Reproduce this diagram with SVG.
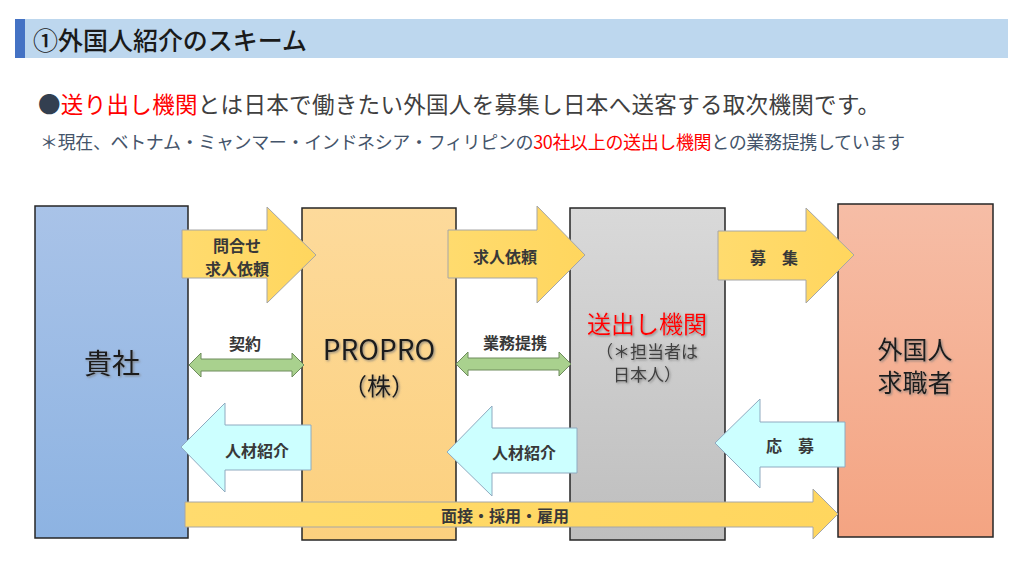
<svg xmlns="http://www.w3.org/2000/svg" width="1024" height="576" viewBox="0 0 1024 576">
<defs>
<linearGradient id="gBlue" x1="0" y1="0" x2="0" y2="1"><stop offset="0" stop-color="#A9C3E8"/><stop offset="1" stop-color="#8DB3E2"/></linearGradient>
<linearGradient id="gOrange" x1="0" y1="0" x2="0" y2="1"><stop offset="0" stop-color="#FDDA9B"/><stop offset="1" stop-color="#FCD07E"/></linearGradient>
<linearGradient id="gGray" x1="0" y1="0" x2="0" y2="1"><stop offset="0" stop-color="#D9D9D9"/><stop offset="1" stop-color="#BEBEBE"/></linearGradient>
<linearGradient id="gSalmon" x1="0" y1="0" x2="0" y2="1"><stop offset="0" stop-color="#F6BDA6"/><stop offset="1" stop-color="#F4A482"/></linearGradient>
<linearGradient id="gYellow" x1="0" y1="0" x2="1" y2="0"><stop offset="0" stop-color="#FFDB6E"/><stop offset="1" stop-color="#FFD65E"/></linearGradient>
<filter id="sh" x="-20%" y="-20%" width="140%" height="140%"><feDropShadow dx="1.2" dy="1.2" stdDeviation="0.8" flood-color="#777" flood-opacity="0.8"/></filter>
</defs>
<style>
.jp{font-family:"Noto Sans CJK JP","Noto Sans",sans-serif;}
.box{stroke:#262626;stroke-width:1.5;}
.ya{fill:url(#gYellow);stroke:#A6A6A6;stroke-width:1;}
.ca{fill:#CCFFFF;stroke:#8FAAC0;stroke-width:1;}
.ga{fill:#A9D18E;stroke:#6E8C5C;stroke-width:1;}
.al{font-size:16px;font-weight:bold;fill:#383838;text-anchor:middle;dominant-baseline:central;}
.bl{fill:#1A1A1A;text-anchor:middle;dominant-baseline:central;filter:url(#sh);}
</style>
<rect width="1024" height="576" fill="#FFFFFF"/>
<g id="header">
<rect x="15" y="19" width="993" height="39" fill="#BDD7EE"/>
<rect x="15" y="19" width="10" height="39" fill="#4472C4"/>
<text class="jp" x="33" y="39" font-size="25" font-weight="500" fill="#1A1A1A" dominant-baseline="central" textLength="274" lengthAdjust="spacingAndGlyphs">①外国人紹介のスキーム</text>
</g>
<g id="intro" class="jp">
<text x="38" y="103" font-size="22.5" fill="#404040" dominant-baseline="central" textLength="842" lengthAdjust="spacing"><tspan fill="#333F50">●</tspan><tspan fill="#FF0000">送り出し機関</tspan>とは日本で働きたい外国人を募集し日本へ送客する取次機関です。</text>
<text x="40" y="141" font-size="18" fill="#44546A" dominant-baseline="central" textLength="865" lengthAdjust="spacing">＊現在、ベトナム・ミャンマー・インドネシア・フィリピンの<tspan fill="#FF0000">30社以上の送出し機関</tspan>との業務提携しています</text>
</g>
<g id="node-kisha">
<rect class="box" x="35" y="206" width="153" height="332" fill="url(#gBlue)"/>
<text class="jp bl" x="112" y="362" font-size="28">貴社</text>
</g>
<g id="node-propro">
<rect class="box" x="302" y="208" width="154" height="332" fill="url(#gOrange)"/>
<text class="jp bl" x="379" y="348" font-size="28">PROPRO</text>
<text class="jp bl" x="379" y="384" font-size="24">（株）</text>
</g>
<g id="node-okuridashi">
<rect class="box" x="570" y="208" width="155" height="332" fill="url(#gGray)"/>
<text class="jp" x="647" y="322" font-size="24" fill="#FF0000" text-anchor="middle" dominant-baseline="central" filter="url(#sh)">送出し機関</text>
<text class="jp" x="647" y="350" font-size="17" fill="#404040" text-anchor="middle" dominant-baseline="central" filter="url(#sh)">（＊担当者は</text>
<text class="jp" x="647" y="373" font-size="17" fill="#404040" text-anchor="middle" dominant-baseline="central" filter="url(#sh)">日本人）</text>
</g>
<g id="node-gaikokujin">
<rect class="box" x="838" y="204" width="155" height="333" fill="url(#gSalmon)"/>
<text class="jp bl" x="915" y="348" font-size="25">外国人</text>
<text class="jp bl" x="915" y="381" font-size="25">求職者</text>
</g>
<g id="connectors">
<polygon class="ya" points="182,230 267,230 267,207 316,255 267,303 267,278 182,278"/>
<text class="jp al" x="237" y="245">問合せ</text>
<text class="jp al" x="237" y="268">求人依頼</text>
<polygon class="ya" points="448,230 537,230 537,206 585,255 537,303 537,278 448,278"/>
<text class="jp al" x="505" y="256">求人依頼</text>
<polygon class="ya" points="718,231 806,231 806,208 854,255 806,303 806,280 718,280"/>
<text class="jp al" x="774" y="257">募　集</text>
<polygon class="ga" points="189,365 201,353 201,359 292,359 292,353 304,365 292,377 292,371 201,371 201,377"/>
<text class="jp al" x="245" y="343">契約</text>
<polygon class="ga" points="456,364 468,352 468,358 559,358 559,352 571,364 559,376 559,370 468,370 468,376"/>
<text class="jp al" x="515" y="342">業務提携</text>
<polygon class="ca" points="181,447 225,403 225,425 311,425 311,470 225,470 225,492"/>
<text class="jp al" x="257" y="450">人材紹介</text>
<polygon class="ca" points="447,452 492,406 492,428 577,428 577,473 492,473 492,496"/>
<text class="jp al" x="524" y="452">人材紹介</text>
<polygon class="ca" points="715,443 760,399 760,422 845,422 845,467 760,467 760,488"/>
<text class="jp al" x="790" y="445">応　募</text>
<polygon class="ya" points="185,502 813,502 813,489 838,514 813,539 813,527 185,527"/>
<text class="jp al" x="505" y="515" font-size="15">面接・採用・雇用</text>
</g>
</svg>
